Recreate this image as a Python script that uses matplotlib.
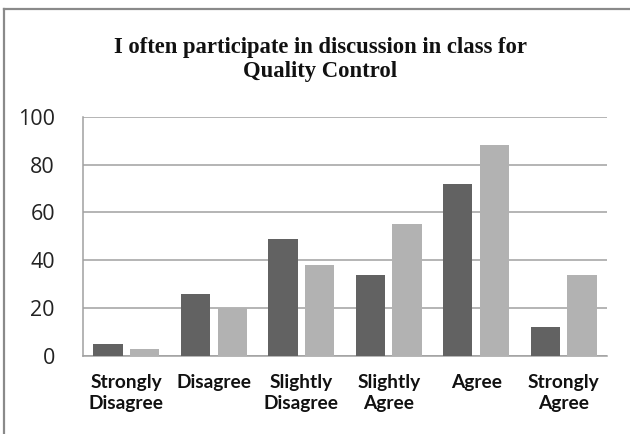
import matplotlib
matplotlib.use("Agg")
import matplotlib.pyplot as plt
import numpy as np

categories = ["Strongly\nDisagree", "Disagree", "Slightly\nDisagree", "Slightly\nAgree", "Agree", "Strongly\nAgree"]
series_a = [5, 26, 49, 34, 72, 12]
series_b = [3, 20, 38, 55, 88, 34]
yticks = [0, 20, 40, 60, 80, 100]
title_lines = ["I often participate in discussion in class for", "Quality Control"]

W, H = 630, 434
fig = plt.figure(figsize=(W / 100, H / 100), dpi=100)

# outer frame (top and left visible)
fig.add_artist(plt.Line2D([4 / W, 4 / W], [0, 1 - 9 / H], color="#8a8a8a", lw=1.6, transform=fig.transFigure))
fig.add_artist(plt.Line2D([4 / W, 1], [1 - 9 / H, 1 - 9 / H], color="#8a8a8a", lw=1.6, transform=fig.transFigure))

left, right, top, bottom = 82.7, 607.3, 116.7, 356.0
ax = fig.add_axes([left / W, 1 - bottom / H, (right - left) / W, (bottom - top) / H])

x = np.arange(len(categories))
bw = 0.335
ax.bar(x - 0.21, series_a, width=bw, color="#626262", zorder=3)
ax.bar(x + 0.21, series_b, width=bw, color="#b2b2b2", zorder=3)

ax.set_xlim(-0.5, len(categories) - 0.5)
ax.set_ylim(0, 100)
ax.set_yticks(yticks)
ax.set_yticklabels([str(v) for v in yticks], family="Open Sans", fontsize=15.5, color="#222222")
ax.set_xticks(x)
ax.set_xticklabels(categories, family="Lato", fontweight="bold", fontsize=13.8, color="#111111", linespacing=1.3)
ax.tick_params(axis="y", length=0, pad=20)
ax.tick_params(axis="x", length=0, pad=13)
ax.grid(axis="y", color="#a0a0a0", lw=1.1, zorder=0)
for s in ["top", "right"]:
    ax.spines[s].set_visible(False)
for s in ["left", "bottom"]:
    ax.spines[s].set_color("#a0a0a0")
    ax.spines[s].set_linewidth(1.1)

fig.text(320 / W, 1 - 52.7 / H, title_lines[0], ha="center", va="baseline",
         family="Liberation Serif", fontweight="bold", fontsize=16.3, color="#111111")
fig.text(320 / W, 1 - 77.5 / H, title_lines[1], ha="center", va="baseline",
         family="Liberation Serif", fontweight="bold", fontsize=16.3, color="#111111")

fig.savefig("out.png", dpi=100)
